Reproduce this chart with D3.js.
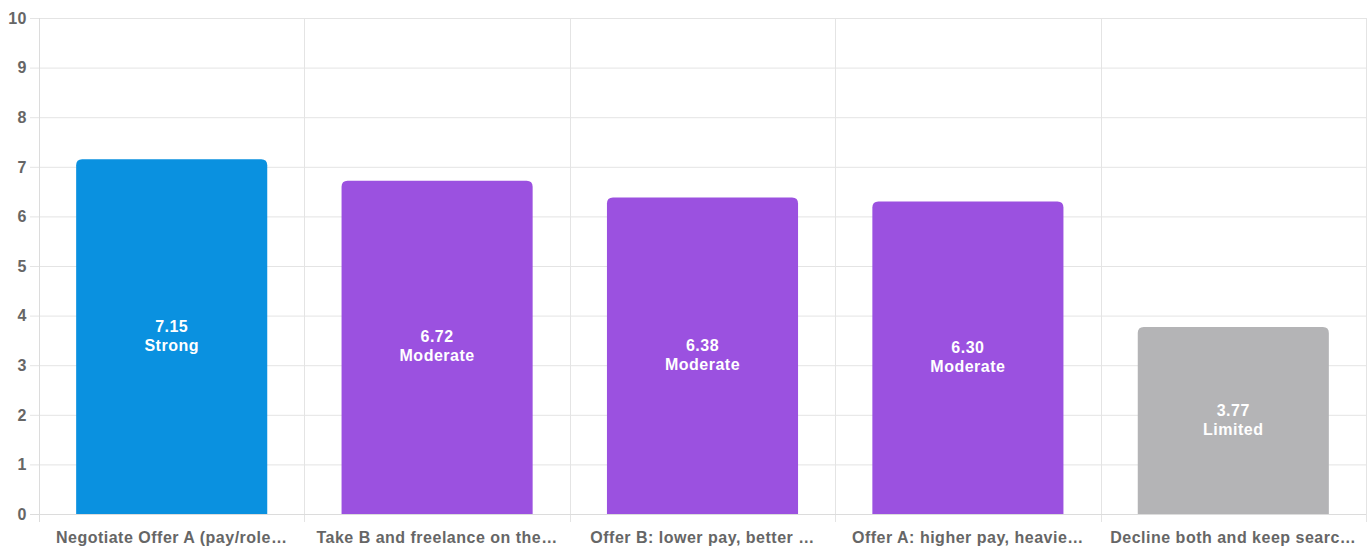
<!DOCTYPE html>
<html><head><meta charset="utf-8">
<script src="https://cdn.jsdelivr.net/npm/d3@7"></script>
<style>body{margin:0;background:#fff;}svg{display:block;font-family:"Liberation Sans",Arial,Helvetica,sans-serif;}</style>
</head><body>
<svg id="c" width="1371" height="548"></svg>
<script>
const categories = ["Negotiate Offer A (pay/role…","Take B and freelance on the…","Offer B: lower pay, better …","Offer A: higher pay, heavie…","Decline both and keep searc…"];
const values = [7.15, 6.72, 6.38, 6.30, 3.77];
const ratings = ["Strong","Moderate","Moderate","Moderate","Limited"];
const colors = ["#0a91e0","#9b51e0","#9b51e0","#9b51e0","#b4b4b6"];
const yTicks = [0,1,2,3,4,5,6,7,8,9,10];

const svg = d3.select("#c");
const L = 39, R = 1366, T = 18, B = 514;
const x = d3.scaleBand().domain(categories).range([L, R]).paddingInner(0).paddingOuter(0);
const y = d3.scaleLinear().domain([0, 10]).range([B, T]);
const bw = x.bandwidth() * 0.72;
const FS = 16, LS = "0.5px";

// grid
const g = svg.append("g");
g.selectAll("line.h").data(yTicks).join("line")
  .attr("x1", L - 9).attr("x2", R).attr("y1", d => y(d) + 0.5).attr("y2", d => y(d) + 0.5)
  .attr("stroke", "#e4e4e4").attr("stroke-width", 1);
const vx = categories.map(c => x(c)).concat([R]);
g.selectAll("line.v").data(vx).join("line")
  .attr("x1", d => Math.round(d) + 0.5).attr("x2", d => Math.round(d) + 0.5)
  .attr("y1", T).attr("y2", B + 8)
  .attr("stroke", "#e4e4e4").attr("stroke-width", 1);
svg.append("line").attr("x1", L + 0.5).attr("x2", L + 0.5).attr("y1", T).attr("y2", B + 8).attr("stroke", "#dcdcdc");
svg.append("line").attr("x1", L - 9).attr("x2", R).attr("y1", B + 0.5).attr("y2", B + 0.5).attr("stroke", "#dcdcdc");

// y tick labels
svg.selectAll("text.yt").data(yTicks).join("text")
  .attr("x", 27).attr("y", d => y(d)).attr("dy", "0.36em")
  .attr("text-anchor", "end").attr("font-size", FS).attr("font-weight", "bold").attr("fill", "#666")
  .attr("letter-spacing", LS)
  .text(d => d);

function barPath(x0, w, yTop, yBot, r) {
  r = Math.min(r, w / 2, (yBot - yTop));
  return `M${x0},${yBot}V${yTop + r}Q${x0},${yTop} ${x0 + r},${yTop}H${x0 + w - r}Q${x0 + w},${yTop} ${x0 + w},${yTop + r}V${yBot}Z`;
}
const data = categories.map((c, i) => ({c, v: values[i], r: ratings[i], col: colors[i]}));
svg.selectAll("path.bar").data(data).join("path")
  .attr("d", d => barPath(x(d.c) + (x.bandwidth() - bw) / 2, bw, y(d.v), y(0), 6))
  .attr("fill", d => d.col);

// bar labels
const cx = d => x(d.c) + x.bandwidth() / 2;
const mid = d => (y(d.v) + y(0)) / 2;
svg.selectAll("text.bv").data(data).join("text")
  .attr("text-anchor", "middle").attr("font-size", FS).attr("font-weight", "bold").attr("fill", "#fff")
  .attr("letter-spacing", LS)
  .attr("x", cx).attr("y", d => mid(d) - 5).text(d => d.v.toFixed(2));
svg.selectAll("text.br").data(data).join("text")
  .attr("text-anchor", "middle").attr("font-size", FS).attr("font-weight", "bold").attr("fill", "#fff")
  .attr("letter-spacing", LS)
  .attr("x", cx).attr("y", d => mid(d) + 14).text(d => d.r);

// category labels
svg.selectAll("text.xl").data(categories).join("text")
  .attr("x", d => x(d) + x.bandwidth() / 2).attr("y", 543)
  .attr("text-anchor", "middle").attr("font-size", FS).attr("font-weight", "bold").attr("fill", "#666")
  .attr("letter-spacing", LS)
  .text(d => d);
</script>
</body></html>
